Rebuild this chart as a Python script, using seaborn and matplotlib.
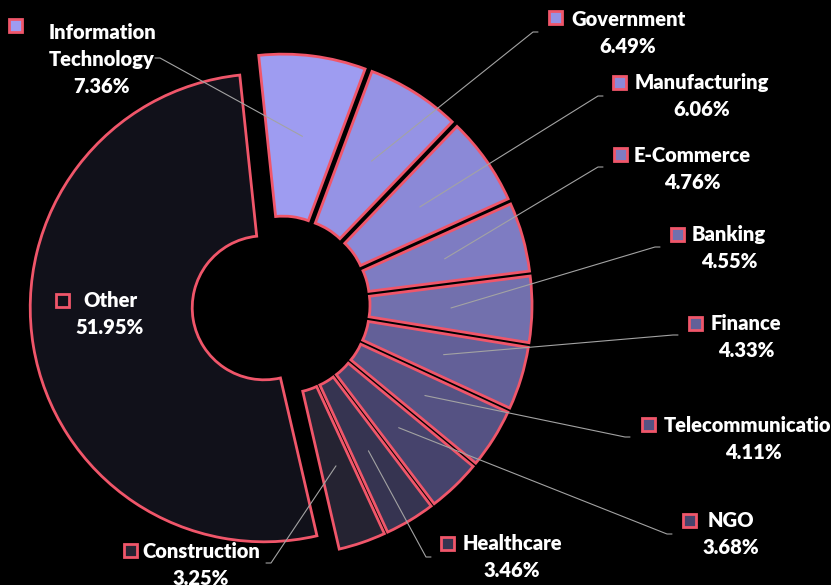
import numpy as np
import matplotlib
matplotlib.use("Agg")
import matplotlib.pyplot as plt
from matplotlib.patches import Rectangle
import seaborn as sns

# data (share of postings by sector, %)
sectors = ["Information\nTechnology", "Government", "Manufacturing", "E-Commerce",
           "Banking", "Finance", "Telecommunication", "NGO", "Healthcare",
           "Construction", "Other"]
shares = [7.36, 6.49, 6.06, 4.76, 4.55, 4.33, 4.11, 3.68, 3.46, 3.25, 51.95]

# style
slice_colors = ["#9e9cf1", "#9593e5", "#8b89d7", "#7e7cc2", "#7270ad", "#636098",
                "#555283", "#46436c", "#363451", "#252332", "#11111a"]
edge_red = "#f0566a"

sns.set_theme(style="dark", rc={"figure.facecolor": "black", "axes.facecolor": "black"})
plt.rcParams["font.family"] = ["Lato", "DejaVu Sans"]

# layout in pixel coords (y down)
W, H = 831, 585
center = (281, 305)
radius = 234
ring = 162
pull = 17

# label layout: x centre of text, baseline of first line, marker centre, leader end
label_x = [102, 628, 702, 692, 729, 746, 753, 731, 512, 201, 110]
label_base = [39, 26, 89, 162, 241, 330, 432, 527, 550, 558, 307]
marker_xy = [(15, 25), (555, 17), (619, 82), (620, 154), (677, 234), (695, 323),
             (648, 424), (689, 520), (447, 543), (130, 550), (62, 300)]
leader_end = [(155, 58), (538, 32), (603, 96), (603, 167), (660, 247), (678, 335),
              (630, 437), (672, 534), (431, 557), (266, 563), None]

fig = plt.figure(figsize=(W / 100, H / 100), dpi=100)
fig.patch.set_facecolor("black")
ax = fig.add_axes([0, 0, 1, 1])

wedges, _ = ax.pie(
    shares,
    colors=slice_colors,
    radius=radius,
    center=center,
    startangle=-96,
    counterclock=True,
    explode=[pull] * len(shares),
    wedgeprops=dict(width=ring, edgecolor=edge_red, linewidth=2),
)

ax.set_xlim(0, W)
ax.set_ylim(H, 0)
ax.set_aspect("equal")
ax.axis("off")

# leader lines
for w, end in zip(wedges, leader_end):
    if end is None:
        continue
    mid = np.deg2rad((w.theta1 + w.theta2) / 2)
    r_mid = w.r - ring / 2
    sx = w.center[0] + r_mid * np.cos(mid)
    sy = w.center[1] + r_mid * np.sin(mid)
    side = 1 if end[0] > center[0] else -1
    ax.plot([sx, end[0] - 5 * side, end[0]], [sy, end[1], end[1]],
            color="#a3a3a3", lw=0.8, zorder=3)

# labels
for name, val, x, b, (mx, my), col in zip(sectors, shares, label_x, label_base,
                                         marker_xy, slice_colors):
    lines = name.split("\n") + [f"{val:.2f}%"]
    for k, line in enumerate(lines):
        ax.text(x, b + 27 * k, line, ha="center", va="baseline", color="white",
                fontsize=14.5, fontweight=800, zorder=5)
    ax.add_patch(Rectangle((mx - 6.5, my - 6.5), 13, 13, facecolor=col,
                           edgecolor=edge_red, lw=2, zorder=5))

fig.savefig("out.png", dpi=100, facecolor="black")
